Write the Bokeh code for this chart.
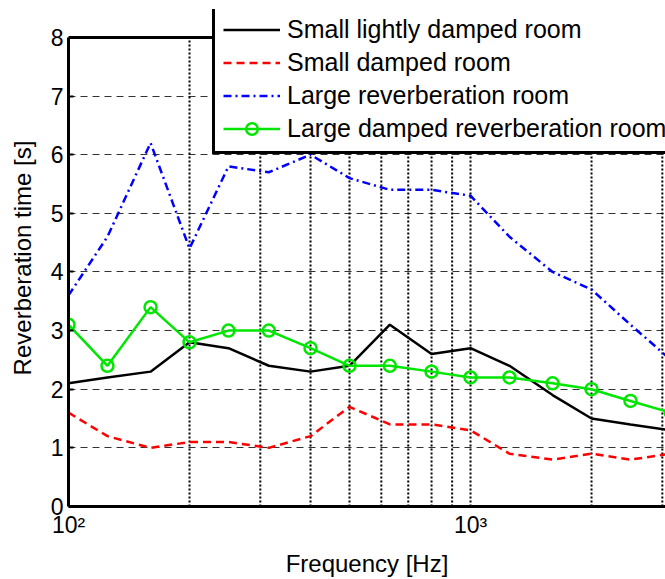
from bokeh.plotting import figure
from bokeh.models import FixedTicker, Span, Legend, LegendItem, Range1d
from bokeh.embed import file_html
from bokeh.resources import INLINE

# ---- data ----
freqs = [100, 125, 160, 200, 250, 315, 400, 500, 630, 800, 1000, 1250, 1600, 2000, 2500, 3150]
small_light = [2.1, 2.2, 2.3, 2.8, 2.7, 2.4, 2.3, 2.4, 3.1, 2.6, 2.7, 2.4, 1.9, 1.5, 1.4, 1.3]
small_damped = [1.6, 1.2, 1.0, 1.1, 1.1, 1.0, 1.2, 1.7, 1.4, 1.4, 1.3, 0.9, 0.8, 0.9, 0.8, 0.9]
large_rev = [3.6, 4.6, 6.2, 4.4, 5.8, 5.7, 6.0, 5.6, 5.4, 5.4, 5.3, 4.6, 4.0, 3.7, 3.1, 2.5]
large_damped = [3.1, 2.4, 3.4, 2.8, 3.0, 3.0, 2.7, 2.4, 2.4, 2.3, 2.2, 2.2, 2.1, 2.0, 1.8, 1.6]

series_names = ["Small lightly damped room", "Small damped room",
                "Large reverberation room", "Large damped reverberation room"]
x_major = [100, 1000]
x_major_labels = {100: "10²", 1000: "10³"}
x_grid_ticks = [200, 300, 400, 500, 600, 700, 800, 900, 1000, 2000, 3000]
y_ticks = [0, 1, 2, 3, 4, 5, 6, 7, 8]
y_grid_ticks = [1, 2, 3, 4, 5, 6, 7]
y_min, y_max = 0, 8

FONT = "Liberation Sans"

# frame: left 68, top 9 (room for legend above the axes box), bottom 508
p = figure(width=665, height=579, x_axis_type="log",
           x_range=Range1d(100, 3055), y_range=Range1d(y_min, y_max + 28 / 58.875),
           output_backend="svg", toolbar_location=None,
           min_border_left=68, min_border_right=0, min_border_top=9, min_border_bottom=71)
p.outline_line_color = None
p.background_fill_color = "white"
p.border_fill_color = "white"

# axes
p.xaxis.ticker = FixedTicker(ticks=x_major, minor_ticks=[])
p.xaxis.major_label_overrides = x_major_labels
p.yaxis.ticker = FixedTicker(ticks=y_ticks, minor_ticks=[])
p.yaxis.bounds = (y_min, y_max)
for ax in (p.xaxis[0], p.yaxis[0]):
    ax.axis_line_width = 3
    ax.axis_line_color = "black"
    ax.major_tick_in = 5
    ax.major_tick_out = 0
    ax.major_tick_line_width = 2
    ax.minor_tick_line_color = None
    ax.major_label_text_font = FONT
    ax.major_label_text_font_size = "23px"
    ax.major_label_text_color = "black"
    ax.axis_label_text_font = FONT
    ax.axis_label_text_font_size = "24px"
    ax.axis_label_text_font_style = "normal"
    ax.axis_label_text_color = "black"
p.xaxis.major_tick_line_color = None
p.xaxis.axis_label = "Frequency [Hz]"
p.yaxis.axis_label = "Reverberation time [s]"
p.yaxis.major_label_standoff = 5
p.yaxis.axis_label_standoff = 12
p.xaxis.major_label_standoff = 5
p.xaxis.axis_label_standoff = 9

# grids
p.ygrid.ticker = FixedTicker(ticks=y_grid_ticks)
p.ygrid.grid_line_color = "#333333"
p.ygrid.grid_line_dash = "7 5"
p.ygrid.grid_line_width = 1
p.xgrid.grid_line_color = None
p.segment(x0=x_grid_ticks, y0=[y_min] * len(x_grid_ticks),
          x1=x_grid_ticks, y1=[y_max] * len(x_grid_ticks),
          line_color="black", line_width=2, line_dash="2 2")

# top border of the axes box
p.add_layout(Span(location=y_max, dimension="width", line_color="black", line_width=3))

r1 = p.line(freqs, small_light, line_color="black", line_width=2.5)
r2 = p.line(freqs, small_damped, line_color="#ff0000", line_width=2.5, line_dash="8 5")
r3 = p.line(freqs, large_rev, line_color="#0000ff", line_width=2.5, line_dash="8 4 2 4")
r4 = p.line(freqs, large_damped, line_color="#00e600", line_width=2.5)
r4c = p.scatter(freqs, large_damped, marker="circle", size=12, fill_color=None,
                line_color="#00e600", line_width=2.5)

legend = Legend(items=[
    LegendItem(label=series_names[0], renderers=[r1]),
    LegendItem(label=series_names[1], renderers=[r2]),
    LegendItem(label=series_names[2], renderers=[r3]),
    LegendItem(label=series_names[3], renderers=[r4, r4c]),
], location=(144, 352))
legend.label_text_font = FONT
legend.label_text_font_size = "25px"
legend.label_text_color = "black"
legend.label_standoff = 7
legend.glyph_width = 57
legend.glyph_height = 29
legend.label_height = 29
legend.spacing = 4
legend.padding = 8
legend.margin = 0
legend.border_line_color = "black"
legend.border_line_alpha = 1.0
legend.border_line_width = 3
legend.background_fill_color = "white"
legend.background_fill_alpha = 1.0
p.add_layout(legend, "center")

open("out.html", "w").write(file_html(p, INLINE))
